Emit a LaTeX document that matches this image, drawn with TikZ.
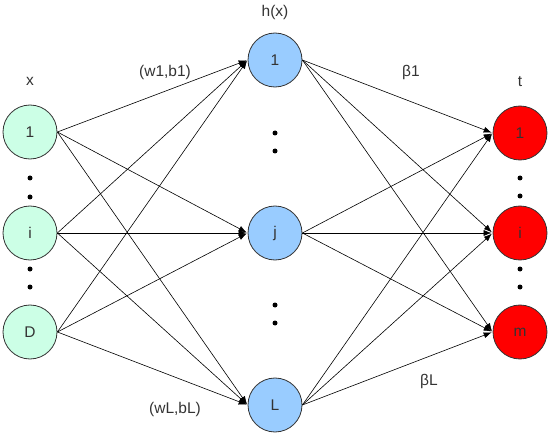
\documentclass[tikz,border=0pt]{standalone}
\usepackage{fontspec}
\setmainfont{Liberation Sans}
\usetikzlibrary{arrows.meta,positioning}
\definecolor{inputgreen}{HTML}{CCFFE6}
\definecolor{hiddenblue}{HTML}{99CCFF}
\definecolor{outputred}{HTML}{FF0000}
\definecolor{textgray}{HTML}{333333}

\begin{document}
\begin{tikzpicture}[x=1pt,y=-1pt,shorten >=1pt,on grid,>={Latex[length=8pt,width=6pt]},
  neuron/.style={circle,draw=black!80,line width=0.8pt,minimum size=54pt,inner sep=0pt,
    text=textgray,font=\fontsize{15.5}{18}\selectfont},
  innode/.style={neuron,fill=inputgreen},
  hidnode/.style={neuron,fill=hiddenblue},
  outnode/.style={neuron,fill=outputred},
  lbl/.style={text=textgray,font=\fontsize{15.5}{18}\selectfont},
  vdot/.style={circle,fill=black,inner sep=0pt,minimum size=5pt}]
\useasboundingbox (0,0) rectangle (550,436);
   % input layer
   \node [innode] (x_1) at (30,132) {1};
   \node [innode] (x_i) [below=101pt of x_1] {i};
   \node [innode] (x_D) [below=99pt of x_i] {D};
   % hidden layer
   \node [hidnode] (h_1) at (275,60) {1};
   \node [hidnode] (h_j) [below=173pt of h_1] {j};
   \node [hidnode] (h_L) [below=172pt of h_j] {L};
   % output layer
   \node [outnode] (t_1) at (520,133) {1};
   \node [outnode] (t_i) [below=100pt of t_1] {i};
   \node [outnode] (t_m) [below=99pt of t_i] {m};
   % dots
   \node [vdot] (xd_1) [below=46pt of x_1] {};
   \node [vdot] (xd_2) [below=19pt of xd_1] {};
   \node [vdot] (xd_3) [below=36pt of x_i] {};
   \node [vdot] (xd_4) [below=18pt of xd_3] {};
   \node [vdot] (hd_1) [below=73pt of h_1] {};
   \node [vdot] (hd_2) [below=18pt of hd_1] {};
   \node [vdot] (hd_3) [below=72pt of h_j] {};
   \node [vdot] (hd_4) [below=18pt of hd_3] {};
   \node [vdot] (td_1) [below=45pt of t_1] {};
   \node [vdot] (td_2) [below=18pt of td_1] {};
   \node [vdot] (td_3) [below=36pt of t_i] {};
   \node [vdot] (td_4) [below=18pt of td_3] {};
   % labels
   \node [lbl] (x_lbl) [above=51pt of x_1] {x};
   \node [lbl] (h_lbl) [above=48pt of h_1] {h(x)};
   \node [lbl] (t_lbl) [above=51pt of t_1] {t};
   \node [lbl] (w_1) at (165,72) {(w1,b1)};
   \node [lbl] (w_L) at (175,409) {(wL,bL)};
   \node [lbl] (beta_1) at (411,72) {β1};
   \node [lbl] (beta_L) at (429,381) {βL};
   % connections
   \foreach \a in {1,i,D}
     \foreach \b in {1,j,L}
       \draw[->,line width=0.6pt] (x_\a.east) -- (h_\b.west);
   \foreach \a in {1,j,L}
     \foreach \b in {1,i,m}
       \draw[->,line width=0.6pt] (h_\a.east) -- (t_\b.west);
\end{tikzpicture}
\end{document}
